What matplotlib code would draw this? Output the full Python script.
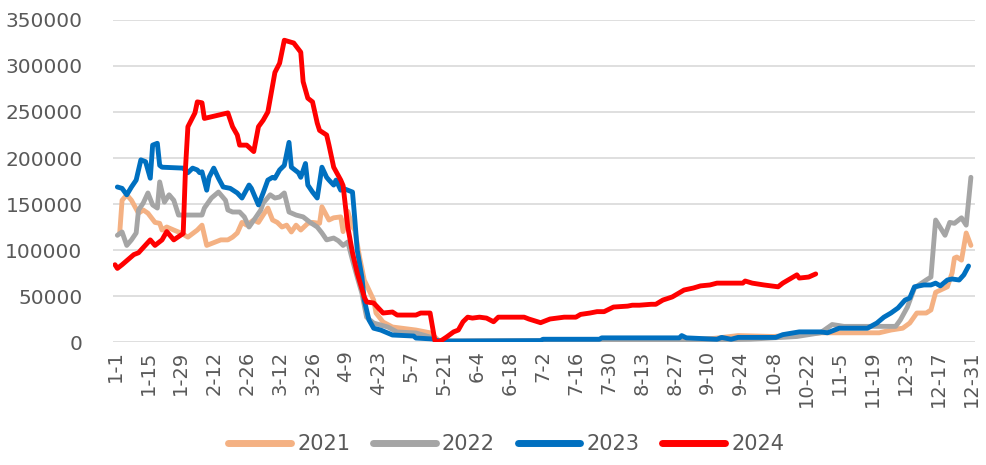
import matplotlib
matplotlib.use("Agg")
import matplotlib.pyplot as plt

# ---- data (day offset from Jan 1, value) ----
tick_labels = ["1-1", "1-15", "1-29", "2-12", "2-26", "3-12", "3-26", "4-9", "4-23",
               "5-7", "5-21", "6-4", "6-18", "7-2", "7-16", "7-30", "8-13", "8-27",
               "9-10", "9-24", "10-8", "10-22", "11-5", "11-19", "12-3", "12-17", "12-31"]
tick_days = [0, 14, 28, 42, 56, 70, 84, 98, 112, 126, 140, 154, 168, 182, 196, 210,
             224, 238, 252, 266, 280, 294, 308, 322, 336, 350, 364]

days_2021 = [2, 3, 5, 7, 10, 12, 14, 17, 19, 20, 22, 25, 28, 31, 35, 37, 39, 45, 48, 50,
             52, 54, 56, 59, 61, 63, 65, 67, 69, 71, 73, 75, 77, 79, 82, 84, 87, 88, 91,
             93, 96, 97, 99, 101, 102, 104, 106, 108, 110, 111, 114, 118, 128, 134, 138,
             200, 240, 255, 265, 280, 300, 325, 330, 335, 338, 341, 345, 347, 349, 354,
             356, 357, 358, 360, 362, 364]
vals_2021 = [118500, 154000, 160000, 154000, 140000, 143500, 140000, 130000, 129000,
             121700, 125000, 121700, 118500, 114000, 121700, 127000, 105000, 111000,
             111000, 114000, 118500, 130000, 127000, 132600, 130000, 138000, 145600,
             132600, 130000, 125000, 127000, 119600, 127000, 121700, 129000, 130000,
             129000, 147000, 132600, 135000, 136000, 120000, 142000, 125000, 121700,
             92400, 67400, 56500, 45600, 31500, 21700, 16300, 13000, 10000, 1000,
             1500, 2000, 4000, 7000, 6000, 10000, 10000, 13000, 15000, 20600, 31500,
             31500, 34800, 54000, 60000, 75000, 91300, 92400, 89000, 118500, 105000]

days_2022 = [1, 3, 5, 7, 9, 10, 12, 14, 16, 18, 19, 21, 23, 25, 27, 37, 38, 41, 44, 47,
             48, 50, 53, 55, 57, 60, 62, 63, 66, 68, 70, 72, 74, 77, 80, 83, 86, 88, 90,
             93, 95, 97, 99, 101, 103, 105, 107, 110, 116, 120, 128, 134, 138, 240, 270,
             290, 300, 305, 310, 332, 334, 337, 340, 345, 347, 349, 353, 355, 357, 360,
             362, 364]
vals_2022 = [116000, 119600, 105000, 111000, 118500, 143500, 151000, 162000, 149000,
             145600, 174000, 152000, 160000, 154000, 138000, 138000, 145600, 156500,
             163000, 154000, 143500, 141300, 141300, 136000, 125000, 136000, 143500,
             151000, 160000, 156500, 157600, 162000, 141300, 138000, 136000, 130000,
             125000, 118500, 111000, 113000, 110000, 105000, 108700, 89000, 70600,
             53000, 27000, 20600, 16300, 10900, 9800, 5400, 800, 1500, 3000, 6000,
             10000, 19000, 17000, 17000, 24000, 38000, 58700, 67400, 70600, 132600,
             116000, 130000, 129000, 135000, 127000, 179000]

days_2023 = [1, 3, 5, 7, 9, 11, 13, 15, 16, 18, 19, 20, 29, 31, 33, 35, 36, 37, 39, 40,
             42, 44, 46, 49, 52, 54, 57, 58, 61, 63, 65, 67, 68, 70, 72, 74, 75, 78, 79,
             81, 82, 84, 86, 88, 90, 91, 93, 94, 96, 97, 99, 101, 102, 103, 105, 106,
             108, 110, 113, 118, 127, 128, 135, 138, 181, 182, 206, 207, 240, 241, 243,
             256, 258, 262, 265, 281, 284, 291, 300, 303, 308, 320, 324, 327, 330, 333,
             336, 338, 340, 344, 347, 349, 351, 354, 356, 359, 361, 363]
vals_2023 = [168500, 167000, 160000, 168500, 176000, 198000, 196000, 178000, 214000,
             216000, 192000, 190000, 189000, 184000, 189000, 187000, 184000, 185000,
             165000, 179000, 189000, 178000, 168500, 167000, 162000, 156500, 170600,
             167000, 149000, 162000, 176000, 179000, 178000, 187000, 192000, 217000,
             190000, 184000, 179000, 194000, 170600, 163000, 156500, 190000, 179000,
             176000, 170600, 176000, 165000, 167000, 165000, 163000, 133000, 100000,
             70600, 45600, 24000, 15000, 13000, 7600, 6500, 4300, 3300, 1000, 1500,
             3000, 3000, 4500, 4500, 7000, 4500, 3000, 5000, 3000, 5000, 5000, 8000,
             11000, 11000, 10000, 15000, 15000, 20600, 27000, 31500, 37000, 45600,
             47800, 60000, 62000, 62000, 64000, 61000, 67400, 68500, 67400, 73000, 82600]

days_2024 = [0, 1, 3, 8, 10, 15, 17, 20, 22, 25, 29, 30, 31, 34, 35, 37, 38, 48, 50, 52,
             53, 56, 59, 61, 63, 65, 68, 70, 72, 76, 79, 80, 82, 84, 86, 87, 90, 91, 93,
             96, 97, 99, 101, 103, 106, 107, 110, 114, 118, 120, 128, 130, 134, 136, 137,
             139, 141, 144, 146, 148, 150, 152, 155, 158, 161, 163, 174, 176, 181, 185,
             191, 196, 198, 202, 205, 208, 212, 218, 220, 223, 228, 230, 233, 237, 242,
             246, 249, 253, 256, 267, 268, 271, 276, 282, 284, 287, 290, 291, 295, 298]
vals_2024 = [84000, 80000, 84000, 95000, 97000, 111000, 105000, 111000, 120000, 111000,
             118000, 190000, 234000, 249000, 261000, 260000, 243000, 249000, 234000,
             225000, 214000, 214000, 207000, 234000, 241000, 250000, 293000, 303000,
             328000, 325000, 315000, 283000, 265000, 261000, 238000, 230000, 225000,
             214000, 190000, 176000, 170000, 125000, 97000, 75000, 49000, 43500, 42400,
             31500, 32600, 29300, 29300, 31500, 31500, 2000, 0, 2000, 5400, 11000,
             13000, 22000, 27000, 26000, 27000, 26000, 22000, 27000, 27000, 25000,
             21000, 25000, 27000, 27000, 30000, 31500, 33000, 33000, 38000, 39000,
             40000, 40000, 41000, 41000, 45600, 49000, 56500, 58700, 61000, 62000,
             64000, 64000, 66300, 64000, 62000, 60000, 64000, 68500, 73000, 69500,
             70600, 74000]

series = [("2021", days_2021, vals_2021, "#F4B183"),
          ("2022", days_2022, vals_2022, "#A5A5A5"),
          ("2023", days_2023, vals_2023, "#0070C0"),
          ("2024", days_2024, vals_2024, "#FF0000")]

fig = plt.figure(figsize=(9.87, 4.65), dpi=100)
ax = fig.add_axes([0.1145, 0.2645, 0.873, 0.6925])

for name, d, v, c in series:
    ax.plot(d, v, color=c, lw=3.5, label=name, solid_joinstyle="round",
            solid_capstyle="round")

ax.set_xlim(-0.85, 365.6)
ax.set_ylim(0, 350000)
ax.set_yticks(range(0, 350001, 50000))
ax.set_xticks(tick_days)
ax.set_xticklabels(tick_labels, rotation=90, fontsize=14, color="#595959")
ax.tick_params(axis="y", labelsize=14.5, labelcolor="#595959", length=0, pad=22)
ax.tick_params(axis="x", length=0, pad=6)
ax.grid(axis="y", color="#D9D9D9", lw=1.2)
ax.set_axisbelow(True)
for s in ax.spines.values():
    s.set_visible(False)

leg = fig.legend(loc="center", bbox_to_anchor=(0.513, 0.045), ncol=4, frameon=False,
                 fontsize=15, handlelength=3.0, handletextpad=0.3, columnspacing=1.1,
                 labelcolor="#595959")
for h in leg.get_lines():
    h.set_linewidth(5)

fig.savefig("out.png", dpi=100)
